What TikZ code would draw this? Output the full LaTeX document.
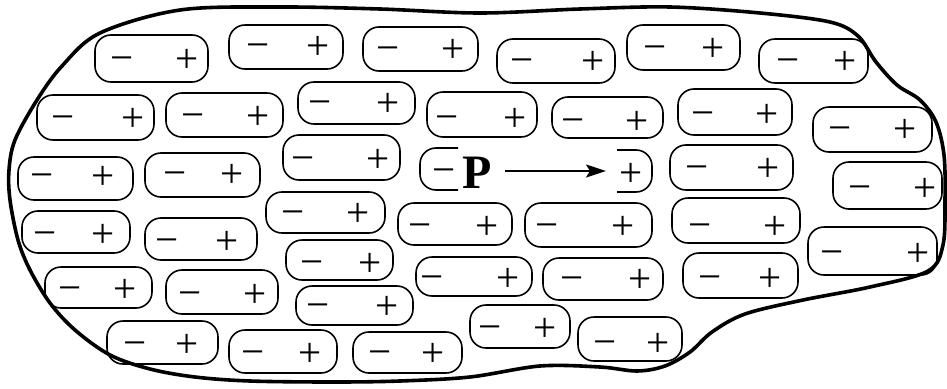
\documentclass[tikz,border=0pt]{standalone}
\usepackage{fontspec}
\setmainfont{Liberation Serif}
\usetikzlibrary{arrows.meta}
\tikzset{
  dipole/.style={draw, line width=1.6pt, rounded corners=16pt, inner sep=0pt},
  sign/.style={inner sep=0pt, anchor=base, font=\fontsize{41}{41}\selectfont},
  partbox/.style={line width=1.6pt, rounded corners=16pt},
  outline/.style={line width=3.6pt, line join=round},
  parrow/.style={line width=1.8pt, -{Stealth[length=20pt,width=13pt,inset=4pt]}}
}
% sign baselines lie below the signs' centres
\newcommand\dip[8]{%
  \node[dipole, minimum width={#4-#2}, minimum height={#5-#3}] (#1) at ({(#2+#4)/2},{(#3+#5)/2}) {};
  \node[sign] (#1m) at (#6,{#8+13.5}) {−};
  \node[sign] (#1p) at (#7,{#8+14}) {+};
}
\begin{document}
\begin{tikzpicture}[x=1pt,y=-1pt]
\useasboundingbox (0,0) rectangle (947,388);
\fill[white] (0,0) rectangle (947,388);
% outline of the body
\draw[outline] plot[smooth cycle, tension=0.55] coordinates {
 (100,33) (180,10) (280,7) (380,9) (480,13) (580,9) (670,7) (760,13) (830,22)
 (858,36) (876,62) (897,85) (920,100) (936,122) (944,155) (945,200) (943,245)
 (928,271) (870,287) (803,300) (745,314) (712,332) (690,352) (665,366) (637,371)
 (600,367) (540,366) (470,377) (400,381) (333,382) (250,381) (195,377) (150,369)
 (110,355) (75,330) (50,303) (30,270) (18,240) (10,200) (9,170) (15,140) (37,100) (62,66)
};
% dipoles
\dip{A}{95}{35}{208}{82}{122}{187}{58}
\dip{B}{229}{25}{343}{69}{258}{318}{45}
\dip{C}{363}{27}{478}{71}{388}{453}{48}
\dip{K}{497}{39}{615}{83}{522}{593}{60}
\dip{L}{627}{25}{740}{70}{655}{713}{47}
\dip{M}{759}{39}{868}{83}{788}{845}{60}
\dip{D}{37}{95}{154}{140}{63}{133}{117}
\dip{E}{166}{93}{283}{137}{193}{258}{115}
\dip{F}{298}{82}{415}{124}{320}{388}{102}
\dip{G}{427}{92}{537}{137}{447}{515}{117}
\dip{N}{552}{97}{663}{138}{573}{637}{120}
\dip{O}{678}{89}{792}{135}{703}{767}{113}
\dip{Q}{813}{107}{932}{152}{840}{905}{128}
\dip{H}{18}{157}{133}{200}{42}{103}{175}
\dip{I}{145}{153}{260}{197}{175}{232}{173}
\dip{J}{283}{135}{400}{180}{303}{378}{158}
\dip{R}{670}{145}{793}{190}{697}{768}{167}
\dip{S}{833}{162}{942}{209}{860}{925}{187}
\dip{T}{22}{211}{130}{253}{45}{103}{233}
\dip{U}{145}{218}{257}{260}{167}{227}{240}
\dip{V}{266}{192}{385}{233}{293}{358}{212}
\dip{W}{398}{203}{512}{245}{420}{487}{225}
\dip{AG}{525}{203}{652}{247}{547}{623}{225}
\dip{AH}{672}{198}{800}{243}{700}{775}{225}
\dip{AK}{808}{227}{937}{275}{832}{918}{252}
\dip{X}{286}{240}{393}{280}{312}{370}{262}
\dip{Y}{416}{257}{532}{296}{432}{508}{277}
\dip{AI}{543}{258}{663}{300}{572}{640}{278}
\dip{AJ}{683}{253}{798}{298}{710}{770}{277}
\dip{Z}{45}{267}{152}{308}{70}{125}{288}
\dip{AA}{166}{270}{278}{314}{190}{255}{293}
\dip{AB}{296}{286}{413}{325}{318}{387}{305}
\dip{AF}{470}{305}{570}{348}{490}{545}{327}
\dip{AL}{578}{317}{682}{361}{605}{658}{342}
\dip{AC}{107}{321}{218}{364}{135}{187}{343}
\dip{AD}{229}{330}{337}{373}{253}{310}{352}
\dip{AE}{353}{332}{462}{373}{380}{433}{352}
% the polarised dipole with P
\draw[partbox] (458,148) -- (420,148) -- (420,190) -- (458,190);
\draw[partbox] (617,150) -- (652,150) -- (652,192) -- (617,192);
\node[sign] (Pm) at (444,183.5) {−};
\node[sign] (Pp) at (631,186) {+};
\node[inner sep=0pt, anchor=base, font=\fontsize{48}{48}\selectfont\bfseries] (P) at (477,188) {P};
\coordinate (arrS) at (505,171);
\coordinate (arrE) at (606,171);
\draw[parrow] (arrS) -- (arrE);
\end{tikzpicture}
\end{document}
